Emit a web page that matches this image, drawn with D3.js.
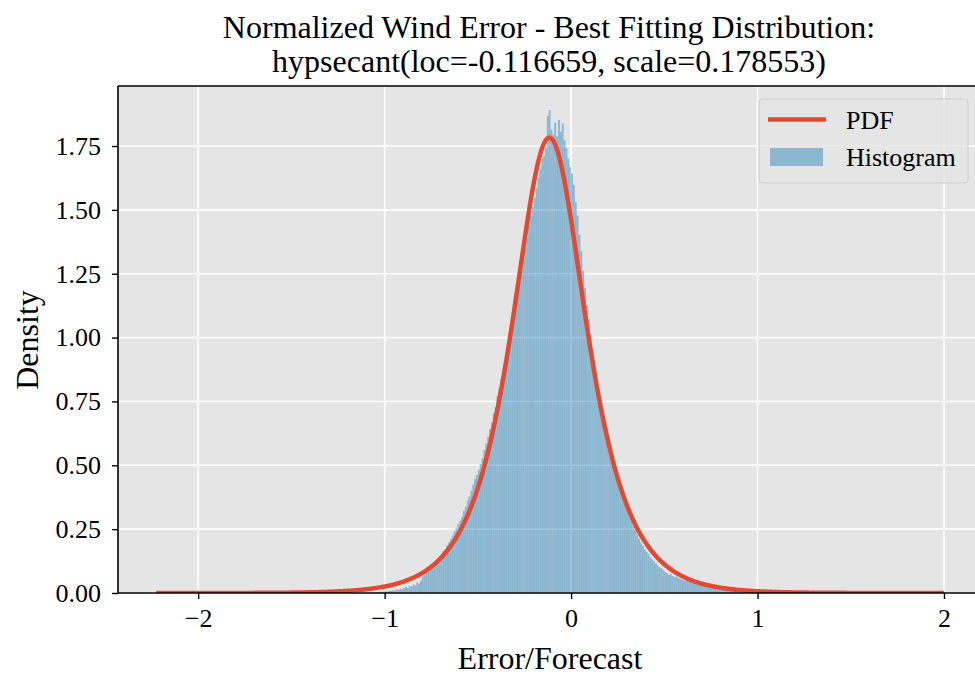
<!DOCTYPE html>
<html>
<head>
<meta charset="utf-8">
<script src="https://cdn.jsdelivr.net/npm/d3@7"></script>
<style>
  html, body { margin: 0; padding: 0; background: #ffffff; }
  svg { display: block; }
  text { font-family: "Liberation Serif", "Times New Roman", serif; fill: #000; }
</style>
</head>
<body>
<svg id="chart" width="975" height="675"></svg>
<script>
// Fitted distribution parameters (hyperbolic secant)
const LOC = -0.116659;
const SCALE = 0.178553;

// Range of the observed normalized errors
const dataRange = [-2.225, 2.0];

// Histogram: bin width and left edge of the first bin, then densities per bin
const binWidth = 0.01;
const binStart = -1.10;
const binDensity = [
  // -1.10 .. -1.01
  0.000, 0.002, 0.000, 0.003, 0.002, 0.004, 0.003, 0.005, 0.004, 0.006,
  // -1.00 .. -0.91
  0.007, 0.005, 0.009, 0.008, 0.011, 0.010, 0.014, 0.012, 0.017, 0.015,
  // -0.90 .. -0.81
  0.020, 0.024, 0.019, 0.028, 0.026, 0.033, 0.030, 0.041, 0.037, 0.049,
  // -0.80 .. -0.71
  0.066, 0.072, 0.079, 0.085, 0.094, 0.101, 0.112, 0.119, 0.131, 0.142,
  // -0.70 .. -0.61
  0.152, 0.165, 0.171, 0.186, 0.198, 0.212, 0.225, 0.241, 0.254, 0.270,
  // -0.60 .. -0.51
  0.282, 0.298, 0.322, 0.338, 0.362, 0.378, 0.401, 0.425, 0.448, 0.462,
  // -0.50 .. -0.41
  0.482, 0.505, 0.528, 0.561, 0.585, 0.612, 0.642, 0.668, 0.702, 0.728,
  // -0.40 .. -0.31
  0.772, 0.802, 0.838, 0.872, 0.905, 0.948, 0.978, 1.018, 1.052, 1.092,
  // -0.30 .. -0.21
  1.125, 1.168, 1.215, 1.262, 1.305, 1.352, 1.392, 1.441, 1.478, 1.512,
  // -0.20 .. -0.11
  1.548, 1.585, 1.628, 1.662, 1.701, 1.712, 1.742, 1.868, 1.891, 1.815,
  // -0.10 .. -0.01
  1.795, 1.842, 1.788, 1.852, 1.806, 1.838, 1.772, 1.742, 1.701, 1.668,
  // 0.00 .. 0.09
  1.642, 1.598, 1.532, 1.478, 1.402, 1.338, 1.262, 1.195, 1.128, 1.072,
  // 0.10 .. 0.19
  1.012, 0.952, 0.905, 0.842, 0.795, 0.762, 0.728, 0.691, 0.672, 0.645,
  // 0.20 .. 0.29
  0.612, 0.578, 0.541, 0.508, 0.472, 0.445, 0.418, 0.392, 0.368, 0.346,
  // 0.30 .. 0.39
  0.318, 0.297, 0.281, 0.262, 0.245, 0.228, 0.212, 0.198, 0.186, 0.171,
  // 0.40 .. 0.49
  0.162, 0.152, 0.141, 0.132, 0.124, 0.116, 0.108, 0.101, 0.096, 0.089,
  // 0.50 .. 0.59
  0.082, 0.078, 0.071, 0.074, 0.066, 0.062, 0.065, 0.058, 0.056, 0.052,
  // 0.60 .. 0.69
  0.050, 0.048, 0.051, 0.044, 0.046, 0.041, 0.043, 0.038, 0.040, 0.036,
  // 0.70 .. 0.79
  0.035, 0.037, 0.031, 0.033, 0.029, 0.030, 0.026, 0.028, 0.024, 0.025,
  // 0.80 .. 0.89
  0.022, 0.023, 0.019, 0.021, 0.017, 0.018, 0.016, 0.015, 0.017, 0.013,
  // 0.90 .. 0.99
  0.013, 0.011, 0.012, 0.010, 0.011, 0.009, 0.008, 0.009, 0.007, 0.008,
  // 1.00 .. 1.09
  0.006, 0.007, 0.005, 0.006, 0.004, 0.005, 0.003, 0.004, 0.003, 0.002
];

// Axis ticks
const xTicks = [-2, -1, 0, 1, 2];
const yTicks = [0, 0.25, 0.5, 0.75, 1.0, 1.25, 1.5, 1.75];

// Text
const titleLines = [
  "Normalized Wind Error - Best Fitting Distribution:",
  `hypsecant(loc=${LOC}, scale=${SCALE})`
];
const xLabel = "Error/Forecast";
const yLabel = "Density";
const legendLabels = ["PDF", "Histogram"];

// ---- layout & style ----
const plot = { left: 118, right: 985, top: 86, bottom: 593 };
const bgColor = "#E5E5E5";
const barColor = "#348ABD";
const lineColor = "#E24A33";

const svg = d3.select("#chart");

const x = d3.scaleLinear().domain([-2.43, 2.22]).range([plot.left, plot.right]);
const y = d3.scaleLinear().domain([0, 1.985]).range([plot.bottom, plot.top]);

svg.append("defs").append("clipPath").attr("id", "plotClip")
  .append("rect")
  .attr("x", plot.left).attr("y", plot.top)
  .attr("width", plot.right - plot.left).attr("height", plot.bottom - plot.top);

// panel background
svg.append("rect")
  .attr("x", plot.left).attr("y", plot.top)
  .attr("width", plot.right - plot.left).attr("height", plot.bottom - plot.top)
  .attr("fill", bgColor);

// grid
const grid = svg.append("g").attr("clip-path", "url(#plotClip)");
grid.selectAll(".gx").data(xTicks).join("line")
  .attr("x1", d => x(d)).attr("x2", d => x(d))
  .attr("y1", plot.top).attr("y2", plot.bottom)
  .attr("stroke", "#fff").attr("stroke-width", 1.6);
grid.selectAll(".gy").data(yTicks).join("line")
  .attr("x1", plot.left).attr("x2", plot.right)
  .attr("y1", d => y(d)).attr("y2", d => y(d))
  .attr("stroke", "#fff").attr("stroke-width", 1.6);

// histogram
const bins = binDensity.map((v, i) => ({ x0: binStart + i * binWidth, x1: binStart + (i + 1) * binWidth, v }));
svg.append("g").attr("clip-path", "url(#plotClip)")
  .selectAll("rect").data(bins).join("rect")
  .attr("x", d => x(d.x0))
  .attr("width", d => Math.max(0, x(d.x1) - x(d.x0)))
  .attr("y", d => y(d.v))
  .attr("height", d => y(0) - y(d.v))
  .attr("fill", barColor)
  .attr("fill-opacity", 0.5);

// fitted PDF
const pdf = v => 1 / (Math.PI * SCALE) / Math.cosh((v - LOC) / SCALE);
const curveX = d3.range(0, 1001).map(i => dataRange[0] + (dataRange[1] - dataRange[0]) * i / 1000);
svg.append("path")
  .attr("clip-path", "url(#plotClip)")
  .datum(curveX)
  .attr("fill", "none")
  .attr("stroke", lineColor)
  .attr("stroke-width", 4.5)
  .attr("stroke-linejoin", "round")
  .attr("d", d3.line().x(d => x(d)).y(d => y(pdf(d))));

// axes
const xAxis = d3.axisBottom(x).tickValues(xTicks)
  .tickFormat(d => (d < 0 ? "\u2212" : "") + Math.abs(d))
  .tickSize(6).tickPadding(10);
const yAxis = d3.axisLeft(y).tickValues(yTicks)
  .tickFormat(d3.format(".2f"))
  .tickSize(6).tickPadding(11);

const gx = svg.append("g").attr("transform", `translate(0,${plot.bottom})`).call(xAxis);
const gy = svg.append("g").attr("transform", `translate(${plot.left},0)`).call(yAxis);
[gx, gy].forEach(g => {
  g.select(".domain").remove();
  g.selectAll(".tick line").attr("stroke", "#000").attr("stroke-width", 1.4);
  g.selectAll(".tick text").style("font-size", "26px").attr("fill", "#000")
    .style("font-family", '"Liberation Serif", "Times New Roman", serif');
});

// spines
svg.append("line").attr("x1", plot.left).attr("x2", plot.left)
  .attr("y1", plot.top).attr("y2", plot.bottom)
  .attr("stroke", "#000").attr("stroke-width", 1.6);
svg.append("line").attr("x1", plot.left).attr("x2", plot.right)
  .attr("y1", plot.bottom).attr("y2", plot.bottom)
  .attr("stroke", "#000").attr("stroke-width", 1.6);
svg.append("line").attr("x1", plot.left).attr("x2", plot.right)
  .attr("y1", plot.top).attr("y2", plot.top)
  .attr("stroke", "#000").attr("stroke-width", 1.6);

// title
const titleX = 549;
svg.append("text").attr("x", titleX).attr("y", 38)
  .attr("text-anchor", "middle").style("font-size", "32px").text(titleLines[0]);
svg.append("text").attr("x", titleX).attr("y", 72)
  .attr("text-anchor", "middle").style("font-size", "32px").text(titleLines[1]);

// axis labels
svg.append("text").attr("x", 550).attr("y", 669)
  .attr("text-anchor", "middle").style("font-size", "32px").text(xLabel);
svg.append("text")
  .attr("transform", "translate(38,340) rotate(-90)")
  .attr("text-anchor", "middle").style("font-size", "32px").text(yLabel);

// legend
const lg = svg.append("g");
lg.append("rect")
  .attr("x", 759).attr("y", 99).attr("width", 209).attr("height", 84)
  .attr("rx", 4).attr("ry", 4)
  .attr("fill", bgColor).attr("fill-opacity", 0.8)
  .attr("stroke", "#CCCCCC").attr("stroke-width", 1);
lg.append("line").attr("x1", 768).attr("x2", 826).attr("y1", 119.5).attr("y2", 119.5)
  .attr("stroke", lineColor).attr("stroke-width", 4.5);
lg.append("rect").attr("x", 770).attr("y", 148).attr("width", 53).attr("height", 18)
  .attr("fill", barColor).attr("fill-opacity", 0.5);
lg.append("text").attr("x", 846).attr("y", 129).style("font-size", "26px").text(legendLabels[0]);
lg.append("text").attr("x", 846).attr("y", 166).style("font-size", "26px").text(legendLabels[1]);
</script>
</body>
</html>
